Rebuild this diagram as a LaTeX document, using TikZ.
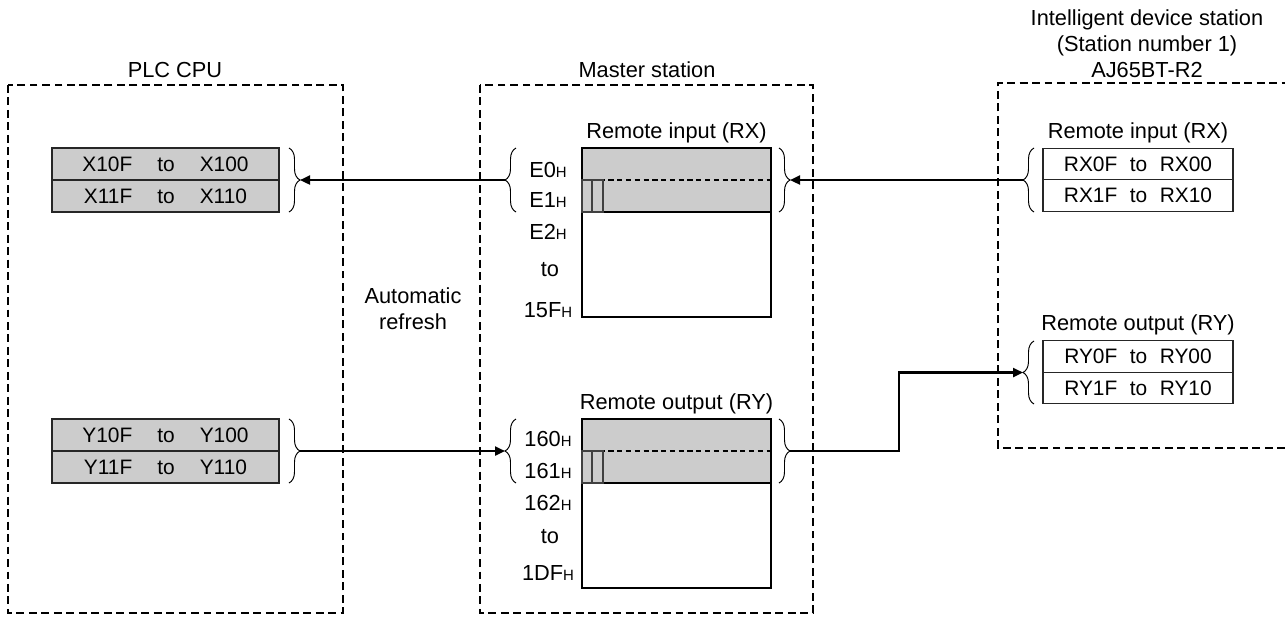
\documentclass[tikz,border=0pt]{standalone}
\usepackage{fontspec}
\setmainfont{Liberation Sans}
\usetikzlibrary{positioning,arrows.meta,decorations.pathreplacing,calc}
\newcommand{\mainfs}{\fontsize{12.4}{14.8}\selectfont}
\newcommand{\rowfs}{\fontsize{11.9}{14}\selectfont}
\newcommand{\hsub}{{\fontsize{8.5}{9}\selectfont H}}
\tikzset{
  frame/.style={draw=black,line width=0.6pt,dash pattern=on 4.5pt off 2.6pt},
  plcrow/.style={rectangle,draw=black!85,line width=0.8pt,fill=black!20,
    minimum width=4.54cm,minimum height=0.64cm,inner sep=0pt,outer sep=0pt,font=\rowfs},
  devrow/.style={rectangle,draw=black!85,line width=0.8pt,fill=white,
    minimum width=3.8cm,minimum height=0.63cm,inner sep=0pt,outer sep=0pt,font=\rowfs},
  memhi/.style={rectangle,draw=black,line width=1.2pt,fill=black!20,
    minimum width=3.78cm,minimum height=1.28cm,inner sep=0pt,outer sep=0pt},
  memlo/.style={rectangle,draw=black,line width=1.2pt,fill=white,
    minimum width=3.78cm,minimum height=2.1cm,inner sep=0pt,outer sep=0pt},
  bitbox/.style={draw=black!75,line width=0.7pt,fill=black!20},
  midline/.style={line width=0.6pt,dash pattern=on 3pt off 2pt},
  brc/.style={decorate,decoration={brace,amplitude=0.22cm},line width=0.55pt},
  lbl/.style={font=\mainfs,inner sep=0pt,align=center},
  fl/.style={-{Triangle[length=2mm,width=1.8mm]},line width=1.3pt},
}
\begin{document}
\begin{tikzpicture}[x=0.02cm,y=-0.02cm]
  \useasboundingbox (0,0) rectangle (1285,620);
  % frames
  \draw[frame] (8,85) rectangle (343,613);
  \draw[frame] (480,85) rectangle (813,613);
  \draw[frame] (1285,448) -- (998,448) -- (998,83) -- (1285,83);
  \node[lbl] (plct) at (175,70) {PLC CPU};
  \node[lbl] (mst) at (647,70) {Master station};
  \node[lbl] (idt) at (1147,44) {Intelligent device station\\(Station number 1)\\AJ65BT-R2};
  \node[lbl] (auto) at (413,309) {Automatic\\refresh};
  % PLC CPU devices
  \node[plcrow] (x1) at (165.5,164) {X10F\hspace{0.5cm}to\hspace{0.5cm}X100};
  \node[plcrow,below=0pt of x1] (x2) {X11F\hspace{0.5cm}to\hspace{0.5cm}X110};
  \node[plcrow] (y1) at (165.5,435) {Y10F\hspace{0.5cm}to\hspace{0.5cm}Y100};
  \node[plcrow,below=0pt of y1] (y2) {Y11F\hspace{0.5cm}to\hspace{0.5cm}Y110};
  \draw[brc] (289,148) -- (289,212);
  \draw[brc] (289,419) -- (289,483);
  \coordinate (xtip) at (300,180);
  \coordinate (ytip) at (300,451);
  % master station buffer memory
  \node[memhi] (rxh) at (676.5,180) {};
  \node[memlo,below=0pt of rxh] (rxl) {};
  \node[lbl,above=0.1cm of rxh] (rxt) {Remote input (RX)};
  \draw[midline] (rxh.west) -- (rxh.east);
  \draw[bitbox] (rxh.west) rectangle ++(10,32);
  \draw[bitbox] ($(rxh.west)+(10,0)$) rectangle ++(11,32);
  \node[memhi] (ryh) at (676.5,451) {};
  \node[memlo,below=0pt of ryh] (ryl) {};
  \node[lbl,above=0.1cm of ryh] (ryt) {Remote output (RY)};
  \draw[midline] (ryh.west) -- (ryh.east);
  \draw[bitbox] (ryh.west) rectangle ++(10,32);
  \draw[bitbox] ($(ryh.west)+(10,0)$) rectangle ++(11,32);
  \node[lbl] (e0) at (548,170) {E0\hsub};
  \node[lbl] (e1) at (548,200) {E1\hsub};
  \node[lbl] (e2) at (548,232) {E2\hsub};
  \node[lbl] (eto) at (550,270) {to};
  \node[lbl] (e15) at (548,310) {15F\hsub};
  \node[lbl] (a0) at (548,439) {160\hsub};
  \node[lbl] (a1) at (548,471) {161\hsub};
  \node[lbl] (a2) at (548,503) {162\hsub};
  \node[lbl] (ato) at (550,537) {to};
  \node[lbl] (a1d) at (548,573) {1DF\hsub};
  \draw[brc] (516,212) -- (516,148);
  \draw[brc] (779,148) -- (779,212);
  \draw[brc] (516,483) -- (516,419);
  \draw[brc] (779,419) -- (779,483);
  \coordinate (mrxl) at (505,180);
  \coordinate (mrxr) at (790,180);
  \coordinate (mryl) at (505,451);
  \coordinate (mryr) at (790,451);
  % intelligent device station
  \node[devrow] (ix1) at (1138,164) {RX0F\hspace{0.25cm}to\hspace{0.25cm}RX00};
  \node[devrow,below=0pt of ix1] (ix2) {RX1F\hspace{0.25cm}to\hspace{0.25cm}RX10};
  \node[lbl,above=0.1cm of ix1] (ixt) {Remote input (RX)};
  \node[devrow] (iy1) at (1138,356.5) {RY0F\hspace{0.25cm}to\hspace{0.25cm}RY00};
  \node[devrow,below=0pt of iy1] (iy2) {RY1F\hspace{0.25cm}to\hspace{0.25cm}RY10};
  \node[lbl,above=0.1cm of iy1] (iyt) {Remote output (RY)};
  \draw[brc] (1034,212) -- (1034,148);
  \draw[brc] (1034,404) -- (1034,341);
  \coordinate (ixtip) at (1023,180);
  \coordinate (iytip) at (1023,372.5);
  % automatic refresh and link data
  \draw[fl] (ixtip) -- (mrxr);
  \draw[fl] (mrxl) -- (xtip);
  \draw[fl] (ytip) -- (mryl);
  \draw[fl] (mryr) -- ++(109,0) |- (iytip);
\end{tikzpicture}
\end{document}
